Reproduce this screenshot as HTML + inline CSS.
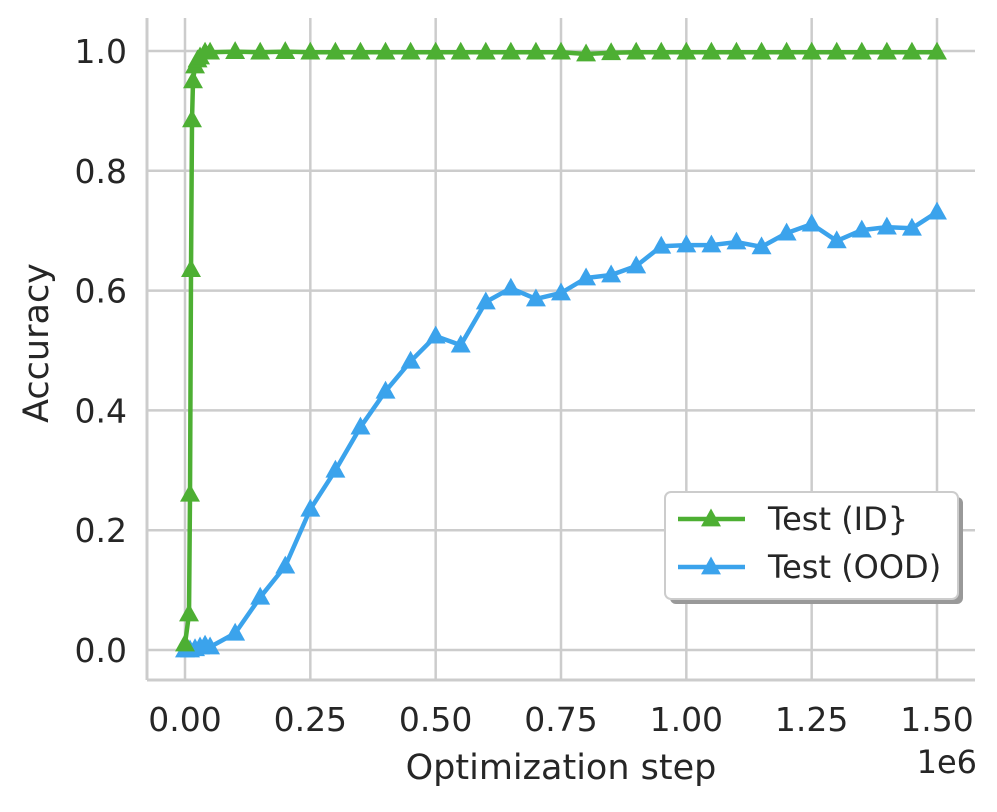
<!DOCTYPE html>
<html><head><meta charset="utf-8"><style>
body{margin:0;background:#fff}
svg text{font-family:"DejaVu Sans","Liberation Sans",sans-serif;fill:#262626}
</style></head><body>
<svg id="chart" width="997" height="807" xmlns="http://www.w3.org/2000/svg"></svg>
<script>
const idX=[0,0.008,0.01,0.012,0.014,0.016,0.02,0.025,0.03,0.04,0.05,0.1,0.15,0.2,0.25,0.3,0.35,0.4,0.45,0.5,0.55,0.6,0.65,0.7,0.75,0.8,0.85,0.9,0.95,1.0,1.05,1.1,1.15,1.2,1.25,1.3,1.35,1.4,1.45,1.5];
const idY=[0.01,0.06,0.26,0.635,0.885,0.95,0.975,0.985,0.99,0.998,0.998,0.999,0.998,0.999,0.998,0.998,0.998,0.998,0.998,0.998,0.998,0.998,0.998,0.998,0.998,0.995,0.997,0.998,0.998,0.998,0.998,0.998,0.998,0.998,0.998,0.998,0.998,0.998,0.998,0.998];
const oodX=[0,0.01,0.02,0.03,0.04,0.05,0.1,0.15,0.2,0.25,0.3,0.35,0.4,0.45,0.5,0.55,0.6,0.65,0.7,0.75,0.8,0.85,0.9,0.95,1.0,1.05,1.1,1.15,1.2,1.25,1.3,1.35,1.4,1.45,1.5];
const oodY=[0.0,0.0,0.002,0.005,0.008,0.005,0.028,0.088,0.14,0.235,0.30,0.372,0.432,0.482,0.524,0.509,0.581,0.604,0.586,0.596,0.621,0.626,0.641,0.674,0.676,0.676,0.681,0.673,0.696,0.711,0.683,0.701,0.706,0.704,0.731];
const xTicks=[0,0.25,0.5,0.75,1.0,1.25,1.5];
const xTickLabels=["0.00","0.25","0.50","0.75","1.00","1.25","1.50"];
const yTicks=[0,0.2,0.4,0.6,0.8,1.0];
const yTickLabels=["0.0","0.2","0.4","0.6","0.8","1.0"];
const NS="http://www.w3.org/2000/svg";
const svg=document.getElementById('chart');
const X=v=>185+v*(937-185)/1.5;
const Y=v=>650-v*(650-51);
function el(t,a,p){const e=document.createElementNS(NS,t);for(const k in a)e.setAttribute(k,a[k]);(p||svg).appendChild(e);return e;}
xTicks.forEach((t,i)=>{
 const g=el('line',{x1:X(t),x2:X(t),y1:18,y2:680,stroke:'#cccccc','stroke-width':2.5});
 
 
 const tx=el('text',{x:X(t),y:731,'font-size':33,'text-anchor':'middle'});tx.textContent=xTickLabels[i];
 
 
});
yTicks.forEach((t,i)=>{
 const g=el('line',{x1:147,x2:975,y1:Y(t),y2:Y(t),stroke:'#cccccc','stroke-width':2.5});
 
 
 const tx=el('text',{x:127,y:Y(t)+12,'font-size':33,'text-anchor':'end'});tx.textContent=yTickLabels[i];
 
 
});
const sp1=el('line',{x1:147,x2:147,y1:18,y2:680,stroke:'#cccccc','stroke-width':3});


const sp2=el('line',{x1:147,x2:975,y1:680,y2:680,stroke:'#cccccc','stroke-width':3});


const xt=el('text',{x:561,y:779,'font-size':35,'text-anchor':'middle'});xt.textContent='Optimization step';


const ex=el('text',{x:977,y:773,'font-size':32,'text-anchor':'end'});ex.textContent='1e6';


const yt=el('text',{x:0,y:0,'font-size':35,'text-anchor':'middle',transform:'translate(48,343) rotate(-90)'});yt.textContent='Accuracy';


function tri(cx,cy,s){return `${cx},${cy-s} ${cx-s*0.95},${cy+s*0.7} ${cx+s*0.95},${cy+s*0.7}`;}
function series(xs,ys,color,name){
 const pts=xs.map((x,i)=>X(x)+','+Y(ys[i])).join(' ');
 const l=el('polyline',{points:pts,fill:'none',stroke:color,'stroke-width':4.5,'stroke-linejoin':'round'});
 
 
 xs.forEach((x,i)=>{
  const m=el('polygon',{points:tri(X(x),Y(ys[i]),10.5),fill:color});
  
  
 });
}
series(oodX,oodY,'#3ba3ec','test-ood');
series(idX,idY,'#4daf33','test-id');
const lg=el('g',{});


el('rect',{x:670,y:497,width:293,height:107,rx:6,fill:'#999'},lg);
el('rect',{x:665,y:492,width:293,height:107,rx:6,fill:'#fff',stroke:'#cccccc','stroke-width':2},lg);
[['Test (ID}','#4daf33',519,'legend-entry-id'],['Test (OOD)','#3ba3ec',567,'legend-entry-ood']].forEach(([t,c,y,n])=>{
 const g=el('g',{},lg);
 
 
 el('line',{x1:678,x2:745,y1:y,y2:y,stroke:c,'stroke-width':4.5},g);
 el('polygon',{points:tri(711,y,10.5),fill:c},g);
 const tx=el('text',{x:768,y:y+11,'font-size':32},g);tx.textContent=t;
});
</script>
</body></html>
